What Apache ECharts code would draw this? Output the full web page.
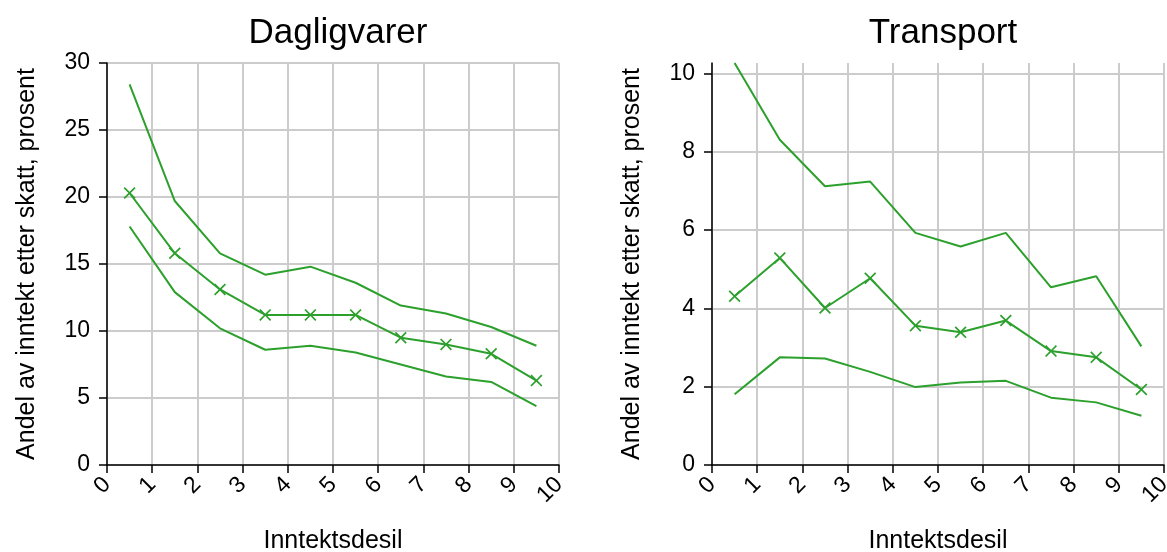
<!DOCTYPE html>
<html>
<head>
<meta charset="utf-8">
<script src="https://cdn.jsdelivr.net/npm/echarts@6/dist/echarts.min.js"></script>
<style>
  html, body { margin: 0; padding: 0; background: #fff; }
  #chart { width: 1167px; height: 552px; }
</style>
</head>
<body>
<div id="chart"></div>
<script>
// Income deciles (midpoints of each decile band)
const deciles = [0.5, 1.5, 2.5, 3.5, 4.5, 5.5, 6.5, 7.5, 8.5, 9.5];
const xTicks = [0, 1, 2, 3, 4, 5, 6, 7, 8, 9, 10];

// Dagligvarer: share of after-tax income, percent
const groceriesUpper = [28.4, 19.7, 15.8, 14.2, 14.8, 13.6, 11.9, 11.3, 10.3, 8.9];
const groceriesMid   = [20.3, 15.8, 13.1, 11.2, 11.2, 11.2, 9.5, 9.0, 8.3, 6.3];
const groceriesLower = [17.8, 12.9, 10.2, 8.6, 8.9, 8.4, 7.5, 6.6, 6.2, 4.4];

// Transport: share of after-tax income, percent
const transportUpper = [10.27, 8.31, 7.12, 7.24, 5.93, 5.58, 5.93, 4.54, 4.82, 3.03];
const transportMid   = [4.31, 5.29, 4.01, 4.77, 3.56, 3.39, 3.69, 2.91, 2.75, 1.93];
const transportLower = [1.81, 2.75, 2.72, 2.38, 1.99, 2.11, 2.15, 1.72, 1.60, 1.26];

const titles = ['Dagligvarer', 'Transport'];
const yName = 'Andel av inntekt etter skatt, prosent';
const xName = 'Inntektsdesil';

const GREEN = '#2ca02c';
const GRID_GREY = '#cccccc';
const FONT = 'Liberation Sans, Arial, sans-serif';
const CROSS = 'path://M1,0L5,4L9,0L10,1L6,5L10,9L9,10L5,6L1,10L0,9L4,5L0,1Z';

const pairs = ys => deciles.map((x, i) => [x, ys[i]]);

function xAxisFor(idx) {
  return {
    type: 'value', gridIndex: idx, min: xTicks[0], max: xTicks[xTicks.length - 1], interval: 1,
    name: xName, nameLocation: 'middle', nameGap: 64,
    nameTextStyle: { fontFamily: FONT, fontSize: 25, color: '#000' },
    axisLine: { show: true, onZero: false, lineStyle: { color: '#000', width: 1.5 } },
    axisTick: { show: true, length: 8, lineStyle: { color: '#000', width: 1.5 } },
    axisLabel: { rotate: 45, margin: 16, fontFamily: FONT, fontSize: 23, color: '#000' },
    splitLine: { show: true, lineStyle: { color: GRID_GREY, width: 2 } }
  };
}

function yAxisFor(idx, max, interval, hideTop) {
  const nLines = Math.floor(max / interval) + 1 + (hideTop ? 1 : 0);
  const colors = [];
  for (let i = 0; i < nLines; i++) colors.push(hideTop && i === nLines - 1 ? 'rgba(0,0,0,0)' : GRID_GREY);
  return {
    type: 'value', gridIndex: idx, min: 0, max: max, interval: interval,
    name: yName, nameLocation: 'middle', nameGap: 67,
    nameTextStyle: { fontFamily: FONT, fontSize: 25, color: '#000' },
    axisLine: { show: true, lineStyle: { color: '#000', width: 1.5 } },
    axisTick: { show: true, length: 8, lineStyle: { color: '#000', width: 1.5 } },
    axisLabel: {
      margin: 17, fontFamily: FONT, fontSize: 23, color: '#000',
      showMaxLabel: !hideTop
    },
    splitLine: { show: true, lineStyle: { color: colors, width: 2 } }
  };
}

function lineSeries(idx, ys, withMarks) {
  return {
    type: 'line', xAxisIndex: idx, yAxisIndex: idx, data: pairs(ys),
    symbol: withMarks ? CROSS : 'none', symbolSize: 12, showSymbol: withMarks,
    lineStyle: { color: GREEN, width: 2 },
    itemStyle: { color: GREEN },
    animation: false, silent: true, z: 3
  };
}

const chart = echarts.init(document.getElementById('chart'), null, { renderer: 'canvas' });
chart.setOption({
  backgroundColor: '#fff',
  animation: false,
  title: [
    { text: titles[0], left: 333, top: 11, textAlign: 'center',
      textStyle: { fontFamily: FONT, fontSize: 35, fontWeight: 'normal', color: '#000' } },
    { text: titles[1], left: 938, top: 11, textAlign: 'center',
      textStyle: { fontFamily: FONT, fontSize: 35, fontWeight: 'normal', color: '#000' } }
  ],
  grid: [
    { left: 107, right: 608, top: 63, bottom: 87, containLabel: false, outerBoundsMode: 'none' },
    { left: 712, right: 3, top: 63, bottom: 87, containLabel: false, outerBoundsMode: 'none' }
  ],
  xAxis: [xAxisFor(0), xAxisFor(1)],
  yAxis: [
    yAxisFor(0, 30, 5, false),
    yAxisFor(1, Math.max(...transportUpper), 2, true)
  ],
  series: [
    lineSeries(0, groceriesUpper, false),
    lineSeries(0, groceriesMid, true),
    lineSeries(0, groceriesLower, false),
    lineSeries(1, transportUpper, false),
    lineSeries(1, transportMid, true),
    lineSeries(1, transportLower, false)
  ]
});
</script>
</body>
</html>
